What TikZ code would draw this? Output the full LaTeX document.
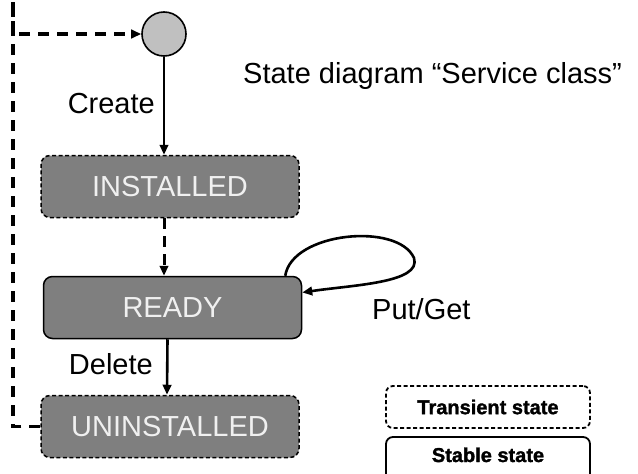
\documentclass[tikz,border=0pt]{standalone}
\usepackage{fontspec}
\setmainfont{Liberation Sans}
\newfontfamily\heavyfont[BoldFeatures={FakeBold=1.5}]{Liberation Sans}
\usetikzlibrary{arrows.meta,calc}
\definecolor{boxgray}{HTML}{7F7F7F}
\definecolor{startgray}{HTML}{C0C0C0}
\definecolor{statetext}{HTML}{F0F0F0}
\begin{document}
\begin{tikzpicture}[x=1pt,y=-1pt,
  state/.style={rounded corners=9pt, fill=boxgray, draw=black, line width=1.5pt,
    minimum width=258pt, minimum height=62pt, text=statetext,
    font=\fontsize{29}{30}\selectfont, inner sep=0pt},
  transient/.style={state, dash pattern=on 4pt off 2.5pt},
  label/.style={font=\fontsize{29}{30}\selectfont, inner sep=0pt},
  legend/.style={rounded corners=7pt, draw=black, line width=1.8pt,
    font=\heavyfont\bfseries\fontsize{20}{22}\selectfont, inner sep=0pt},
  tip/.style={-{Triangle[length=10pt,width=8.5pt]}},
  flow/.style={line width=2.6pt, tip},
  dashflow/.style={line width=3pt, dash pattern=on 11pt off 7pt, tip}
]
\clip (0,0) rectangle (638,474);
\fill[white] (0,0) rectangle (638,474);

% states
\node[circle, draw=black, line width=1.6pt, fill=startgray, minimum size=44pt,
  inner sep=0pt] (start) at (164,34) {};
\node[transient] (installed) at (170,186.5) {INSTALLED};
\node[state] (ready) at (172.5,307.5) {READY};
\node[transient] (uninstalled) at (170,426.5) {UNINSTALLED};

% transitions
\draw[flow] (start.south) -- (start.south |- installed.north);
\draw[dashflow] (installed.south -| start.south) -- (start.south |- ready.north);
\draw[flow] ($(ready.south)+(-5,0)$) -- ($(uninstalled.north)+(-3,0)$);
\coordinate (loopleft) at (13,0);
\draw[line width=3.5pt, dash pattern=on 11pt off 8pt, tip]
  (uninstalled.west) -| (loopleft) |- (start.west);
\draw[line width=2.6pt, tip]
  ($(ready.north east)+(-17,0)$)
  .. controls (292,232) and (398,222) .. (414,258)
  .. controls (422,283) and (352,285) .. ($(ready.east)+(0,-15)$);

% labels
\node[label, anchor=base east] (create) at (155,113) {Create};
\node[label, anchor=base east] (delete) at (153,374) {Delete};
\node[label, anchor=base west] (putget) at (372,319) {Put/Get};
\node[label, anchor=base west] (title) at (243,83) {State diagram “Service class”};

% legend
\node[legend, dash pattern=on 4pt off 2.5pt, minimum width=204pt, minimum height=42pt]
  (transientkey) at (488,407) {Transient state};
\node[legend, minimum width=204pt, minimum height=46pt]
  (stablekey) at (488,460) {};
\node[font=\heavyfont\bfseries\fontsize{20}{22}\selectfont, inner sep=0pt, anchor=base]
  (stabletext) at (488,462) {Stable state};
\end{tikzpicture}
\end{document}
